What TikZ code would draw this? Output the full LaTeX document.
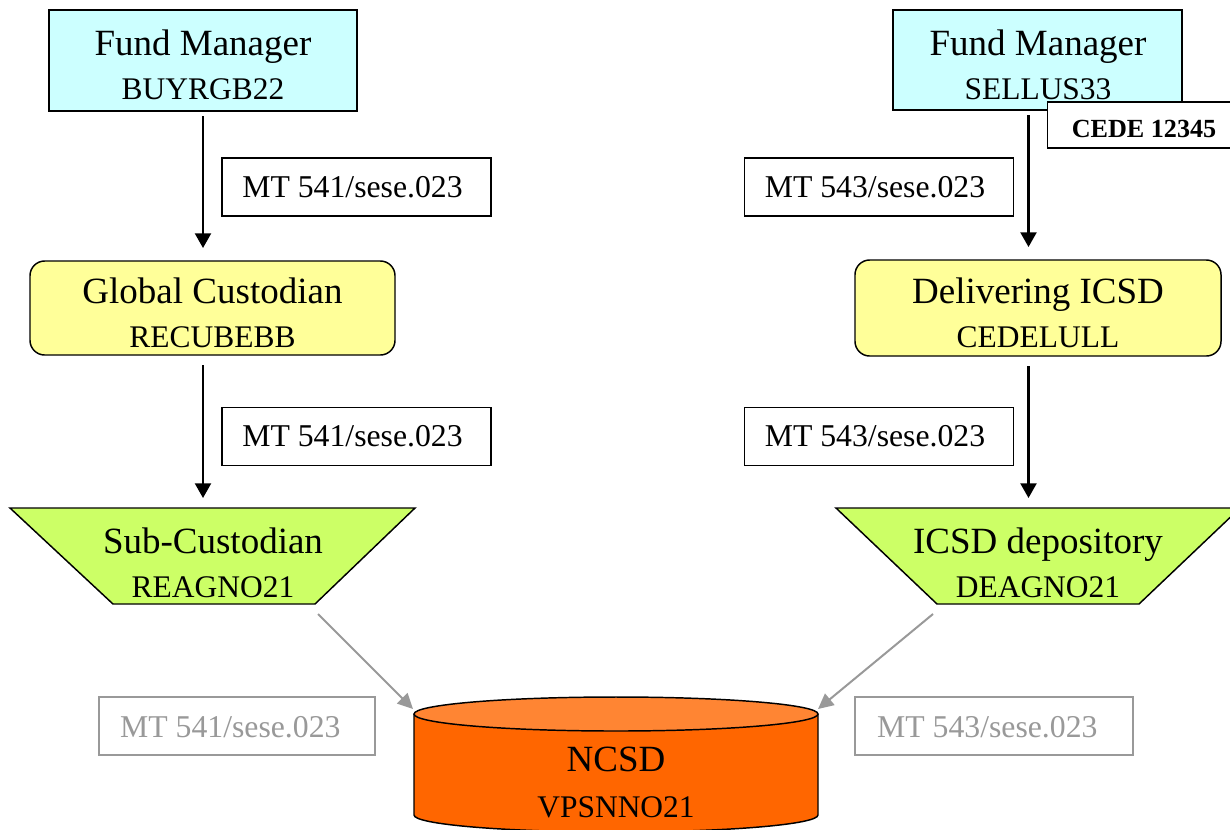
\documentclass[tikz,border=0pt]{standalone}
\usepackage{fontspec}
\setmainfont{Liberation Serif}
\usetikzlibrary{arrows.meta,calc}

\definecolor{fmcyan}{HTML}{CCFFFF}
\definecolor{custyellow}{HTML}{FFFF99}
\definecolor{subgreen}{HTML}{CCFF66}
\definecolor{ncsdbody}{HTML}{FF6600}
\definecolor{ncsdtop}{HTML}{FF8533}
\definecolor{msggray}{HTML}{999999}

\begin{document}
\begin{tikzpicture}[x=0.75pt,y=-0.75pt,
  box/.style={draw=black,line width=1.1pt,inner sep=0pt,outer sep=0pt},
  fm/.style={box,fill=fmcyan},
  cust/.style={box,fill=custyellow,rounded corners=11pt},
  msg/.style={box,fill=white,minimum width=201.75pt,minimum height=43.5pt,
    font=\fontsize{23.8pt}{28pt}\selectfont,text height=15pt,text depth=0pt},
  ghost/.style={draw=msggray,line width=1.1pt,fill=white,inner sep=0pt,outer sep=0pt,
    minimum height=43.5pt,text=msggray,
    font=\fontsize{23.8pt}{28pt}\selectfont,text height=16.5pt,text depth=0pt},
  ref/.style={box,fill=white,minimum width=144.75pt,minimum height=34.5pt,
    font=\bfseries\fontsize{19.6pt}{23pt}\selectfont,text height=18pt,text depth=0pt},
  big/.style={font=\fontsize{27.75pt}{32pt}\selectfont,anchor=base,inner sep=0pt},
  small/.style={font=\fontsize{23.6pt}{28pt}\selectfont,anchor=base,inner sep=0pt},
  trap/.style={draw=black,line width=1.1pt,fill=subgreen,line join=miter},
  flow/.style={draw=black,line width=1.6pt,-{Triangle[width=12pt,length=11pt]}},
  feed/.style={draw=msggray,line width=1.5pt,-{Triangle[width=11pt,length=11.5pt]}},
]
\clip (0,0) rectangle (1230,829);
\useasboundingbox (0,0) rectangle (1230,829);

% ---------- buyer side ----------
\node[fm,minimum width=231pt,minimum height=75.75pt] (fm1) at (203,60.5) {};
\node[big] (fm1name) at (203,55) {Fund Manager};
\node[small] (fm1bic) at (203,99) {BUYRGB22};

\node[cust,minimum width=273.75pt,minimum height=70.5pt] (gc) at (212.5,308) {};
\node[big] (gcname) at (212.5,303) {Global Custodian};
\node[small] (gcbic) at (212.5,347) {RECUBEBB};

\coordinate (subtop) at (213,508);
\coordinate (subSE) at (315,604);
\filldraw[trap] (10,508) -- (415,508) -- (315,604) -- (113,604) -- cycle;
\node[big] (subname) at (213,553) {Sub-Custodian};
\node[small] (subbic) at (213,597) {REAGNO21};

\node[msg] (m1) at (356.5,187) {MT 541/sese.023\kern6pt};
\node[msg] (m2) at (356.5,436.5) {MT 541/sese.023\kern6pt};

\draw[flow] ($(fm1.south)+(0,5)$) -- ($(fm1.south |- gc.north)+(0,-13)$);
\draw[flow] ($(fm1.south |- gc.south)+(0,10)$) -- ($(fm1.south |- subtop)+(0,-10)$);

% ---------- seller side ----------
\coordinate (rcol) at (1028.5,0);
\node[fm,minimum width=216.75pt,minimum height=75pt] (fm2) at (1037.5,60) {};
\node[big] (fm2name) at (1038,55) {Fund Manager};
\node[small] (fm2bic) at (1038,99) {SELLUS33};
\node[ref] (cede) at (1144,125) {CEDE 12345};

\node[cust,minimum width=274.5pt,minimum height=72pt] (dlv) at (1038,308) {};
\node[big] (dlvname) at (1038,303) {Delivering ICSD};
\node[small] (dlvbic) at (1038,347) {CEDELULL};

\coordinate (icsdtop) at (1038,508);
\coordinate (icsdSW) at (937,604);
\filldraw[trap] (836,508) -- (1240,508) -- (1139,604) -- (937,604) -- cycle;
\node[big] (icsdname) at (1038,553) {ICSD depository};
\node[small] (icsdbic) at (1038,597) {DEAGNO21};

\node[msg] (m3) at (879,187) {MT 543/sese.023\kern6pt};
\node[msg] (m4) at (879,436.5) {MT 543/sese.023\kern6pt};

\draw[flow] ($(rcol |- fm2.south)+(0,5)$) -- ($(rcol |- dlv.north)+(0,-13)$);
\draw[flow] ($(rcol |- dlv.south)+(0,10)$) -- ($(rcol |- icsdtop)+(0,-10)$);

% ---------- national CSD ----------
\coordinate (ncsdNW) at (414,714);
\coordinate (ncsdNE) at (818,714);
\filldraw[draw=black,line width=1.1pt,fill=ncsdbody]
  (414,714) -- (414,815) arc[start angle=180,end angle=0,x radius=202,y radius=17]
  -- (818,714);
\filldraw[draw=black,line width=1.1pt,fill=ncsdtop] (616,714) ellipse [x radius=202,y radius=17];
\node[big] (ncsdname) at (616,771) {NCSD};
\node[small] (ncsdbic) at (616,817) {VPSNNO21};

\node[ghost,minimum width=207pt] (g1) at (237,726) {MT 541/sese.023\kern10pt};
\node[ghost,minimum width=208.5pt] (g2) at (994,726) {MT 543/sese.023\kern10pt};

\draw[feed] ($(subSE)+(3,10)$) -- ($(ncsdNW)+(-1,-5)$);
\draw[feed] ($(icsdSW)+(-4,10)$) -- ($(ncsdNE)+(0,-5)$);
\end{tikzpicture}
\end{document}
